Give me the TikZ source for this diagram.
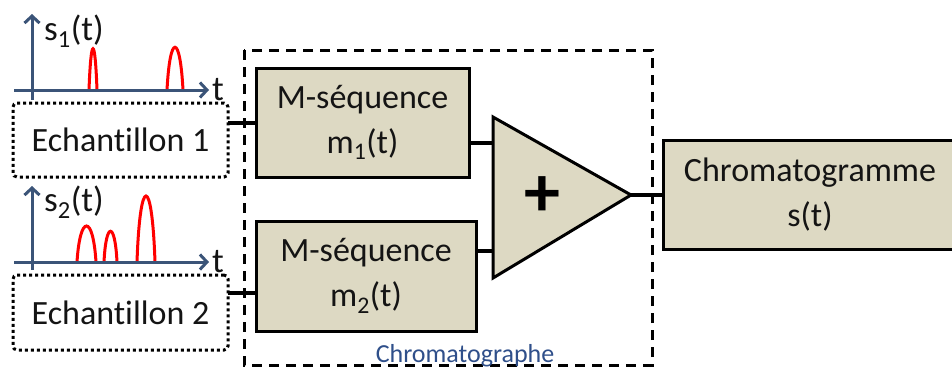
\documentclass[tikz,border=0pt]{standalone}
\usepackage{fontspec}
\setmainfont{Carlito}[Ligatures=NoCommon]
\usetikzlibrary{arrows.meta}
\definecolor{tanfill}{HTML}{DDD9C3}
\definecolor{axisc}{HTML}{3B5478}
\definecolor{txt}{HTML}{141414}
\definecolor{lblc}{HTML}{2F4F8A}
\begin{document}
\begin{tikzpicture}[x=1pt,y=-1pt,
  blk/.style={draw=black, line width=3pt, fill=tanfill, text=txt, align=center,
    font=\fontsize{34}{45}\selectfont, inner sep=0pt},
  smp/.style={draw=black, line width=3pt, dash pattern=on 3pt off 3pt,
    rounded corners=4pt, text=txt, font=\fontsize{34}{40}\selectfont, inner sep=0pt},
  wire/.style={line width=4pt, draw=black},
  axisline/.style={draw=axisc, line width=3pt, -{Straight Barb[length=7pt,width=15pt,line width=3pt]}},
  peak/.style={draw=red, line width=3pt},
  axlbl/.style={text=txt, font=\fontsize{35}{38}\selectfont, inner sep=0pt, anchor=west},
  grp/.style={draw=black, line width=3pt, dash pattern=on 10pt off 7pt},
]
\useasboundingbox (0,0) rectangle (952,367);
\clip (0,0) rectangle (952,367);

% chromatograph group
\draw[grp] (244,50) rectangle (652,365);
\node[text=lblc, font=\fontsize{26}{30}\selectfont, inner sep=0pt, anchor=base] (lbl) at (465,362) {Chromatographe};

% samples
\node[smp, minimum width=215pt, minimum height=74pt] (e1) at (120.5,140) {Echantillon 1};
\node[smp, minimum width=215pt, minimum height=75pt] (e2) at (120.5,312.5) {Echantillon 2};

% M-sequences
\node[blk, minimum width=213pt, minimum height=109pt] (m1) at (362.5,122.5) {M-séquence\\m\textsubscript{1}(t)};
\node[blk, minimum width=220pt, minimum height=110pt] (m2) at (366,276) {M-séquence\\m\textsubscript{2}(t)};

% output
\node[blk, minimum width=294pt, minimum height=109pt] (chrom) at (810,194.5) {Chromatogramme\\s(t)};

% summing triangle
\coordinate (tT) at (493,117);
\coordinate (tO) at (631,195);
\coordinate (tB) at (493,278);
\coordinate (tA1) at (493,143);
\coordinate (tA2) at (493,251);
\draw[fill=tanfill, line width=3pt, line join=miter] (tT) -- (tO) -- (tB) -- cycle;
\node[text=black, font=\fontsize{72}{72}\selectfont\bfseries, inner sep=0pt] (plus) at (542,197) {+};

% wires
\coordinate (w1) at (228,123);
\coordinate (w2) at (228,293);
\draw[wire] (w1) -- (m1.west |- w1);
\draw[wire] (w2) -- (m2.west |- w2);
\draw[wire] (m1.east |- tA1) -- (tA1);
\draw[wire] (m2.east |- tA2) -- (tA2);
\draw[wire] (tO) -- (chrom.west |- tO);

% signal 1
\draw[peak] (89,90) .. controls (91,35) and (95,35) .. (97,90);
\draw[peak] (167,90) .. controls (170,33) and (180,33) .. (183,90);
\coordinate (y1a) at (32,100);
\coordinate (y1b) at (32,14);
\coordinate (x1a) at (14,90);
\coordinate (x1b) at (209,90);
\draw[axisline] (y1a) -- (y1b);
\draw[axisline] (x1a) -- (x1b);
\node[axlbl] (s1) at (44,31) {s\textsubscript{1}(t)};
\node[axlbl] (t1) at (212,90) {t};

% signal 2
\draw[peak] (77,262) .. controls (80,214) and (93,214) .. (96,262);
\draw[peak] (104,262) .. controls (106,221) and (115,221) .. (117,262);
\draw[peak] (137,262) .. controls (140,174) and (152,174) .. (155,262);
\coordinate (y2a) at (32,270);
\coordinate (y2b) at (32,186);
\coordinate (x2a) at (14,262);
\coordinate (x2b) at (209,262);
\draw[axisline] (y2a) -- (y2b);
\draw[axisline] (x2a) -- (x2b);
\node[axlbl] (s2) at (44,202) {s\textsubscript{2}(t)};
\node[axlbl] (t2) at (212,262) {t};
\end{tikzpicture}
\end{document}
